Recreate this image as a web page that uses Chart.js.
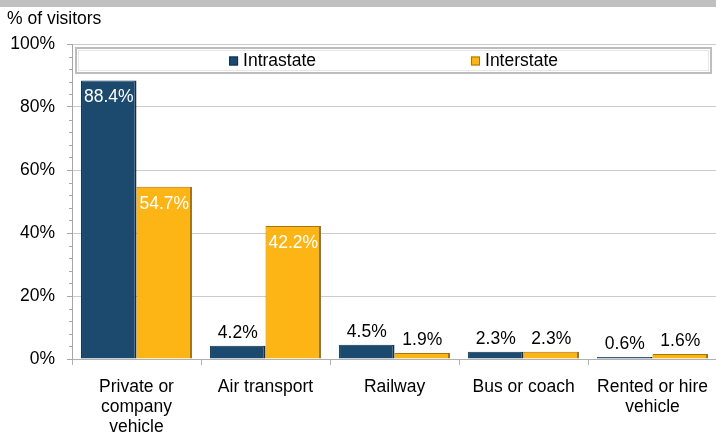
<!DOCTYPE html>
<html>
<head>
<meta charset="utf-8">
<script src="https://cdn.jsdelivr.net/npm/chart.js@4/dist/chart.umd.min.js"></script>
<style>
  html, body { margin: 0; padding: 0; background: #fff; overflow: hidden; }
  #wrap { width: 716px; height: 432px; position: relative; overflow: hidden; }
</style>
</head>
<body>
<div id="wrap"><canvas id="chart" width="720" height="432"></canvas></div>
<script>
// data
const categories = [['Private or', 'company', 'vehicle'], 'Air transport', 'Railway', 'Bus or coach', ['Rented or hire', 'vehicle']];
const intrastate = [88.4, 4.2, 4.5, 2.3, 0.6];
const interstate = [54.7, 42.2, 1.9, 2.3, 1.6];
const yMax = 100;
const yStep = 20;
const minorStep = 4;
const yTitle = '% of visitors';

const FONT = '"Liberation Sans", Arial, sans-serif';
const FS = 17.5;
const BLUE = '#1b4a6e';
const BLUE_EDGE = '#0f3050';
const ORANGE = '#fdb515';
const ORANGE_EDGE = '#a8740c';

// top strip, axis title, minor ticks
const decorPlugin = {
  id: 'decor',
  beforeDraw(chart) {
    const ctx = chart.ctx;
    ctx.save();
    ctx.fillStyle = '#fff';
    ctx.fillRect(0, 0, chart.width, chart.height);
    ctx.fillStyle = '#c0c0c0';
    ctx.fillRect(0, 0, chart.width, 7);
    ctx.fillStyle = '#000';
    ctx.font = FS + 'px ' + FONT;
    ctx.textBaseline = 'middle';
    ctx.textAlign = 'left';
    ctx.fillText(yTitle, 7, 19);
    ctx.restore();
  },
  afterDraw(chart) {
    const ctx = chart.ctx;
    const y = chart.scales.y;
    ctx.save();
    ctx.strokeStyle = '#a6a6a6';
    ctx.lineWidth = 1;
    for (let v = 0; v <= yMax; v += minorStep) {
      if (v % yStep === 0) continue;
      const py = Math.round(y.getPixelForValue(v)) + 0.5;
      ctx.beginPath();
      ctx.moveTo(y.right - 3, py);
      ctx.lineTo(y.right, py);
      ctx.stroke();
    }
    ctx.restore();
  }
};

// legend drawn inside the plot area, in a framed box
const boxLegend = {
  id: 'boxLegend',
  afterDatasetsDraw(chart) {
    const ctx = chart.ctx;
    const area = chart.chartArea;
    const left = area.left + 4, right = area.right - 6, top = area.top + 4, bottom = area.top + 29;
    ctx.save();
    ctx.fillStyle = '#fff';
    ctx.fillRect(left, top, right - left, bottom - top);
    ctx.strokeStyle = '#bdbdbd';
    ctx.lineWidth = 2;
    ctx.strokeRect(left, top, right - left, bottom - top);
    ctx.strokeStyle = '#e6e6e6';
    ctx.lineWidth = 1;
    ctx.strokeRect(left + 2.5, top + 2.5, right - left - 5, bottom - top - 5);

    ctx.font = FS + 'px ' + FONT;
    ctx.textBaseline = 'middle';
    ctx.textAlign = 'left';
    const gap = 155;
    const items = chart.data.datasets.map(ds => ({
      label: ds.label, fill: ds.backgroundColor, edge: ds.borderColor,
      w: 14 + ctx.measureText(ds.label).width
    }));
    const total = items.reduce((s, it) => s + it.w, 0) + gap * (items.length - 1);
    let x = (left + right) / 2 - total / 2;
    const cy = (top + bottom) / 2 + 1;
    items.forEach(it => {
      ctx.fillStyle = it.fill;
      ctx.fillRect(x, cy - 5, 9, 9);
      ctx.strokeStyle = it.edge;
      ctx.lineWidth = 1;
      ctx.strokeRect(x + 0.5, cy - 4.5, 8, 8);
      ctx.fillStyle = '#000';
      ctx.fillText(it.label, x + 14, cy);
      x += it.w + gap;
    });
    ctx.restore();
  }
};

// value labels: white inside tall bars, black above short ones
const valueLabels = {
  id: 'valueLabels',
  afterDatasetsDraw(chart) {
    const ctx = chart.ctx;
    ctx.save();
    ctx.font = FS + 'px ' + FONT;
    ctx.textAlign = 'center';
    ctx.textBaseline = 'middle';
    chart.data.datasets.forEach((ds, i) => {
      chart.getDatasetMeta(i).data.forEach((bar, j) => {
        const v = ds.data[j];
        const txt = v.toFixed(1) + '%';
        if (v > 30) {
          ctx.fillStyle = '#fff';
          ctx.fillText(txt, bar.x, bar.y + 17);
        } else {
          ctx.fillStyle = '#000';
          ctx.fillText(txt, bar.x, bar.y - 13);
        }
      });
    });
    ctx.restore();
  }
};

new Chart(document.getElementById('chart'), {
  type: 'bar',
  data: {
    labels: categories,
    datasets: [
      { label: 'Intrastate', data: intrastate, backgroundColor: BLUE, borderColor: BLUE_EDGE,
        borderWidth: { left: 1, top: 1, right: 2, bottom: 1 } },
      { label: 'Interstate', data: interstate, backgroundColor: ORANGE, borderColor: ORANGE_EDGE,
        borderWidth: { left: 1, top: 1, right: 2, bottom: 1 } }
    ]
  },
  options: {
    responsive: false,
    animation: false,
    events: [],
    layout: { padding: { top: 44, right: 0, left: 0, bottom: 0 } },
    datasets: { bar: { categoryPercentage: 0.86, barPercentage: 1.0 } },
    plugins: {
      legend: { display: false },
      tooltip: { enabled: false },
      title: { display: false }
    },
    scales: {
      x: {
        grid: { display: true, drawOnChartArea: false, offset: true, tickLength: 6, color: '#b0b0b0' },
        border: { color: '#b0b0b0', width: 1 },
        ticks: {
          color: '#000', padding: 12, maxRotation: 0, autoSkip: false,
          font: { family: FONT, size: FS, lineHeight: 1.14 }
        },
        afterFit(scale) { scale.height = 73; }
      },
      y: {
        min: 0, max: yMax,
        grid: { color: '#cccccc', tickLength: 5, tickColor: '#a6a6a6' },
        border: { color: '#a6a6a6', width: 1 },
        ticks: {
          stepSize: yStep, color: '#000', padding: 12,
          font: { family: FONT, size: FS },
          callback: v => v + '%'
        },
        afterFit(scale) { scale.width = 72; }
      }
    }
  },
  plugins: [decorPlugin, boxLegend, valueLabels]
});
</script>
</body>
</html>
